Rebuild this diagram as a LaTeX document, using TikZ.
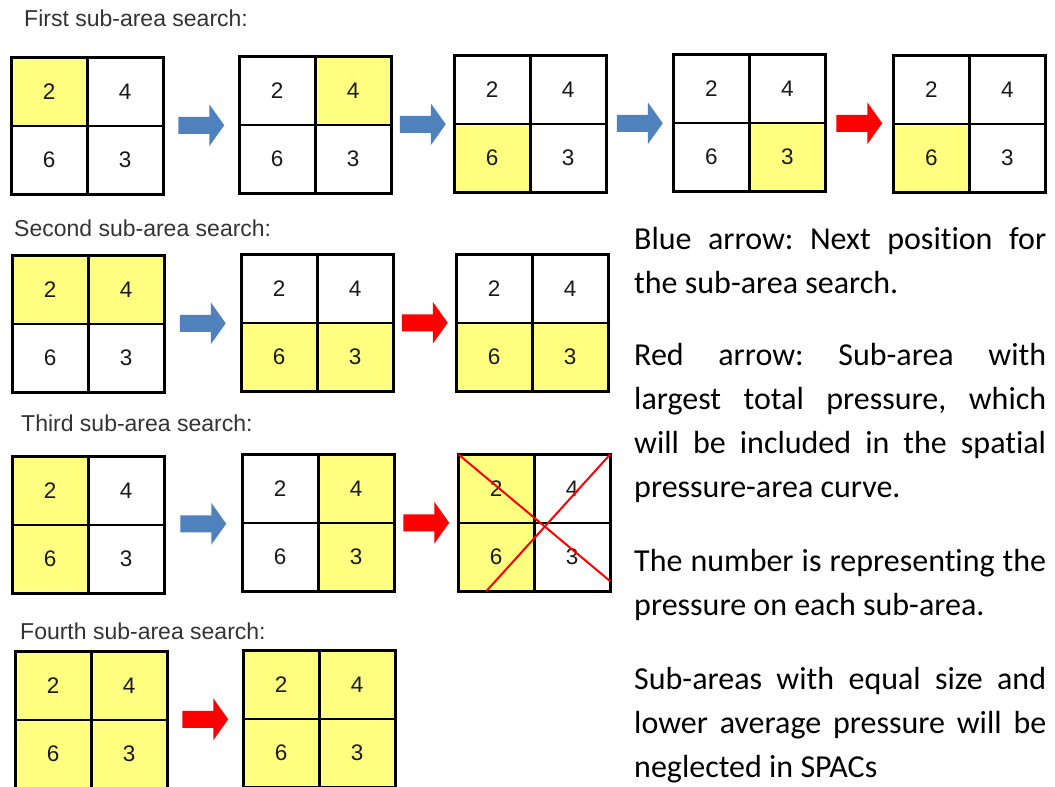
\documentclass[tikz,border=0pt]{standalone}
\usepackage{fontspec}
\newfontfamily\arialfont{Liberation Sans}
\newfontfamily\notefont{Carlito}[Ligatures=NoCommon]
\usetikzlibrary{positioning,calc}
\definecolor{hl}{RGB}{255,255,128}
\definecolor{arrblue}{RGB}{79,129,189}
\definecolor{arrred}{RGB}{255,0,0}
\newcommand\notesetup{\notefont\fontsize{32}{44}\selectfont\frenchspacing
  \tolerance=10000\relax\hyphenpenalty=10000\relax\exhyphenpenalty=10000\relax}
\tikzset{
  cell/.style={draw,line width=2.5pt,minimum width=76pt,minimum height=68.5pt,inner sep=0pt,outer sep=0pt,
    font=\arialfont\fontsize{22.5}{26}\selectfont,text=black!90},
  caption/.style={anchor=west,inner sep=0pt,font=\arialfont\fontsize{23}{27}\selectfont,text=black!80},
  note/.style={anchor=base west,inner sep=0pt,text width=412pt,align=justify,font=\notesetup},
  xline/.style={draw=arrred,line width=2pt},
  % 2x2 sub-area grid, args = fills of the cells 2,4,6,3
  pics/quad/.style n args={4}{code={
    \node[cell,fill=#1] (-tl) {2};
    \node[cell,fill=#2,right=0pt of -tl] (-tr) {4};
    \node[cell,fill=#3,below=0pt of -tl] (-bl) {6};
    \node[cell,fill=#4,right=0pt of -bl] (-br) {3};
  }},
  pics/blockarr/.style={code={
    \fill[#1] (-23,-8.5) -- (8,-8.5) -- (8,-21) -- (23,0) -- (8,21) -- (8,8.5) -- (-23,8.5) -- cycle;
  }}
}
\begin{document}
\begin{tikzpicture}[x=1pt,y=-1pt]
\useasboundingbox (0,0) rectangle (1055,787);
\clip (0,0) rectangle (1055,787);

% first search
\node[caption] (first) at (24,18) {First sub-area search:};
\pic (g11) at (49.25,91.5) {quad={hl}{white}{white}{white}};
\pic (g12) at (277.25,90.5) {quad={white}{hl}{white}{white}};
\pic (g13) at (492.25,89.5) {quad={white}{white}{hl}{white}};
\pic (g14) at (711.25,88.5) {quad={white}{white}{white}{hl}};
\pic (g15) at (931.25,89.5) {quad={white}{white}{hl}{white}};
\pic at ($(g11-tr.south east)!0.5!(g12-tl.south west)$) {blockarr=arrblue};
\pic at ($(g12-tr.south east)!0.5!(g13-tl.south west)$) {blockarr=arrblue};
\pic at ($(g13-tr.south east)!0.5!(g14-tl.south west)$) {blockarr=arrblue};
\pic at ($(g14-tr.south east)!0.5!(g15-tl.south west)$) {blockarr=arrred};

% second search
\node[caption] (second) at (14,228) {Second sub-area search:};
\pic (g21) at (50.25,289.5) {quad={hl}{hl}{white}{white}};
\pic (g22) at (279.25,288.5) {quad={white}{white}{hl}{hl}};
\pic (g23) at (494.25,288.5) {quad={white}{white}{hl}{hl}};
\pic at ($(g21-tr.south east)!0.5!(g22-tl.south west)$) {blockarr=arrblue};
\pic at ($(g22-tr.south east)!0.5!(g23-tl.south west)$) {blockarr=arrred};

% third search
\node[caption] (third) at (21,423) {Third sub-area search:};
\pic (g31) at (50.25,490.5) {quad={hl}{white}{hl}{white}};
\pic (g32) at (280.25,488.5) {quad={white}{hl}{white}{hl}};
\pic (g33) at (496.25,488.5) {quad={hl}{white}{hl}{white}};
\pic at ($(g31-tr.south east)!0.5!(g32-tl.south west)$) {blockarr=arrblue};
\pic at ($(g32-tr.south east)!0.5!(g33-tl.south west)$) {blockarr=arrred};
\draw[xline] (g33-tl.north west) -- ($(g33-br.south east)+(0,-10)$);
\draw[xline] (g33-tr.north east) -- ($(g33-bl.south)+(-10,0)$);

% fourth search
\node[caption] (fourth) at (20,631) {Fourth sub-area search:};
\pic (g41) at (53.25,685.5) {quad={hl}{hl}{hl}{hl}};
\pic (g42) at (281.25,684.5) {quad={hl}{hl}{hl}{hl}};
\pic at ($(g41-tr.south east)!0.5!(g42-tl.south west)$) {blockarr=arrred};

% legend
\node[note] (blue) at (634,249.5) {Blue arrow: Next position for\linebreak the sub-area search.};
\node[note] (red) at (634,365) {Red arrow: Sub-area with\linebreak largest total pressure, which\linebreak will be included in the spatial\linebreak pressure-area curve.};
\node[note] (num) at (634,571) {The number is representing the\linebreak pressure on each sub-area.};
\node[note] (neglect) at (634,689) {Sub-areas with equal size and\linebreak lower average pressure will be\linebreak neglected in SPACs};
\end{tikzpicture}
\end{document}
